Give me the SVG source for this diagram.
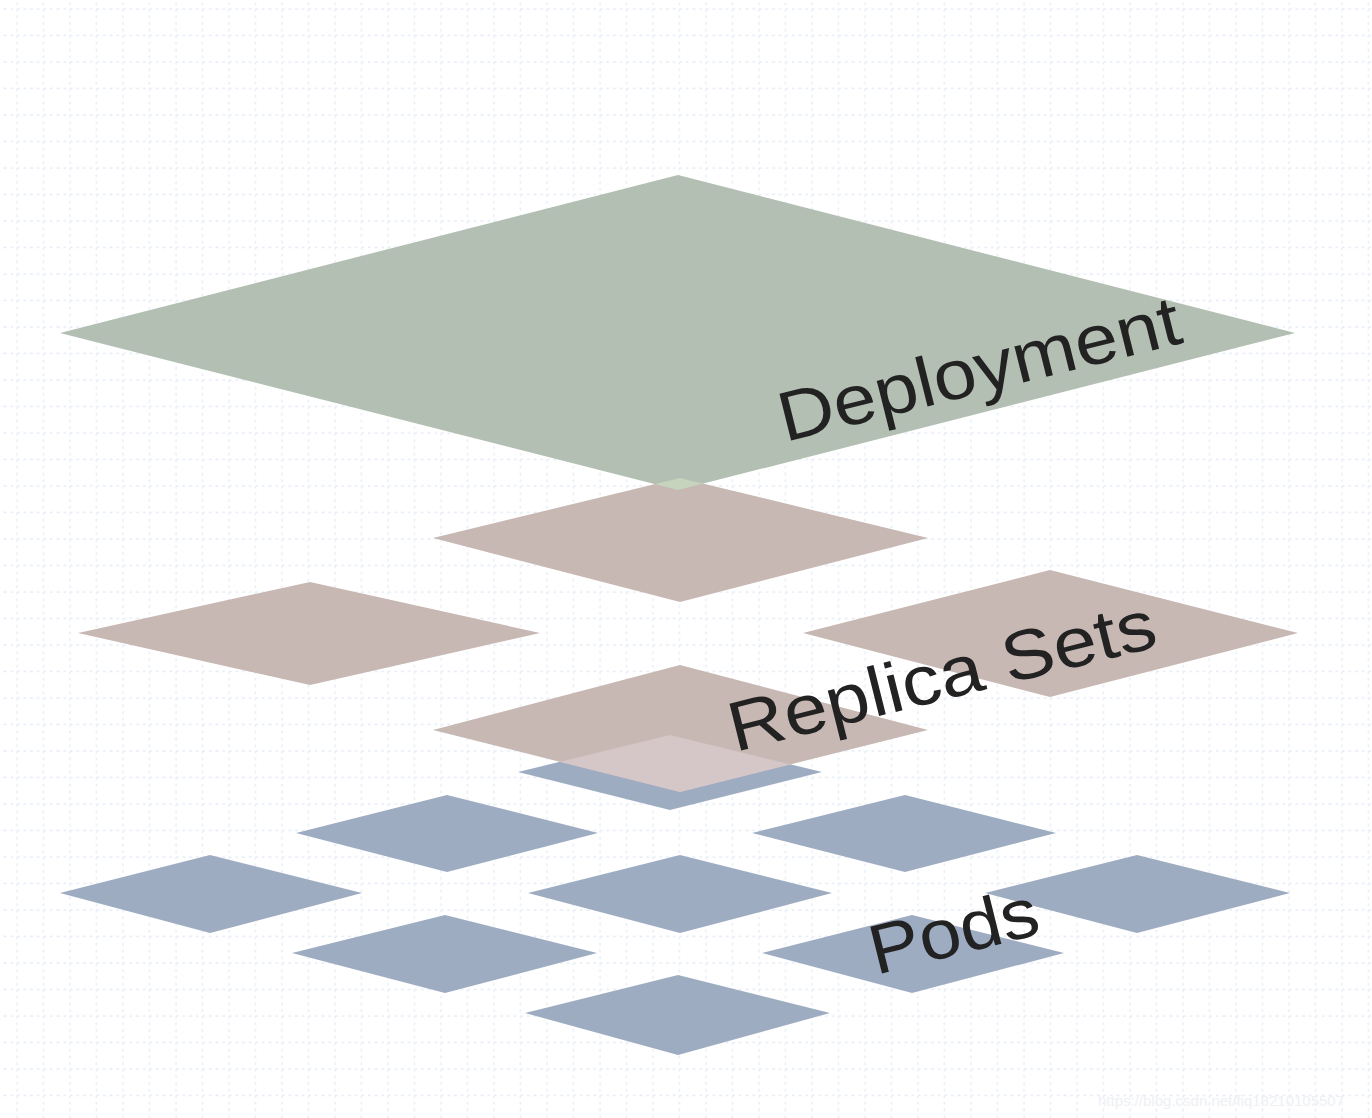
<svg xmlns="http://www.w3.org/2000/svg" width="1372" height="1118" viewBox="0 0 1372 1118">
<defs>
<pattern id="g" width="26.5" height="26.5" patternUnits="userSpaceOnUse" x="4" y="-4">
<line x1="0" y1="13" x2="26.5" y2="13" stroke="#e3eaf5" stroke-width="1.3" stroke-dasharray="2.5,4"/>
<line x1="13" y1="0" x2="13" y2="26.5" stroke="#e3eaf5" stroke-width="1.3" stroke-dasharray="2.5,4"/>
</pattern>
<clipPath id="rsC"><polygon points="680,665 928,730 680,792 433,730"/></clipPath>
<clipPath id="depC"><polygon points="678,175 1295,333 678,490 60,333"/></clipPath>
</defs>
<style>
.d{fill:#b3bfb3}.r{fill:#c7b8b4}.p{fill:#9eacc2}
.t{font-family:"Liberation Sans",Arial,sans-serif;fill:#222;font-size:70px}
</style>
<rect width="1372" height="1118" fill="#fff"/>
<rect width="1372" height="1118" fill="url(#g)"/>
<g id="pods">
<polygon class="p" points="670,735 822,772 670,810 518,772"/>
<polygon class="p" points="447,795 598,833 447,872 296,833"/>
<polygon class="p" points="905,795 1056,833 905,872 752,833"/>
<polygon class="p" points="210,855 362,893 210,933 60,893"/>
<polygon class="p" points="680,855 832,893 680,933 528,893"/>
<polygon class="p" points="1137,855 1290,893 1137,933 985,893"/>
<polygon class="p" points="445,915 597,953 445,993 292,953"/>
<polygon class="p" points="912,915 1064,953 912,993 762,953"/>
<polygon class="p" points="678,975 830,1013 678,1055 525,1013"/>
</g>
<g id="replicasets">
<polygon class="r" points="680,478 928,538 680,602 433,538"/>
<polygon class="r" points="310,582 540,633 310,685 78,633"/>
<polygon class="r" points="1050,570 1298,633 1050,697 803,633"/>
<polygon class="r" points="680,665 928,730 680,792 433,730"/>
<polygon fill="#d5c6c8" clip-path="url(#rsC)" points="670,735 822,772 670,810 518,772"/>
</g>
<g id="deployment">
<polygon class="d" points="678,175 1295,333 678,490 60,333"/>
<polygon fill="#c6d3bd" clip-path="url(#depC)" points="680,478 928,538 680,602 433,538"/>
</g>
<g id="labels">
<text class="t" transform="translate(785,442) rotate(-14)" textLength="412" lengthAdjust="spacingAndGlyphs">Deployment</text>
<text class="t" transform="translate(735,752) rotate(-14)" textLength="438" lengthAdjust="spacingAndGlyphs">Replica Sets</text>
<text class="t" transform="translate(876,975) rotate(-14)" textLength="172" lengthAdjust="spacingAndGlyphs">Pods</text>
<text x="1098" y="1106" font-family="Liberation Sans,Arial,sans-serif" font-size="15" fill="#eef0f4">https://blog.csdn.net/fiq18210105507</text>
</g>
</svg>
